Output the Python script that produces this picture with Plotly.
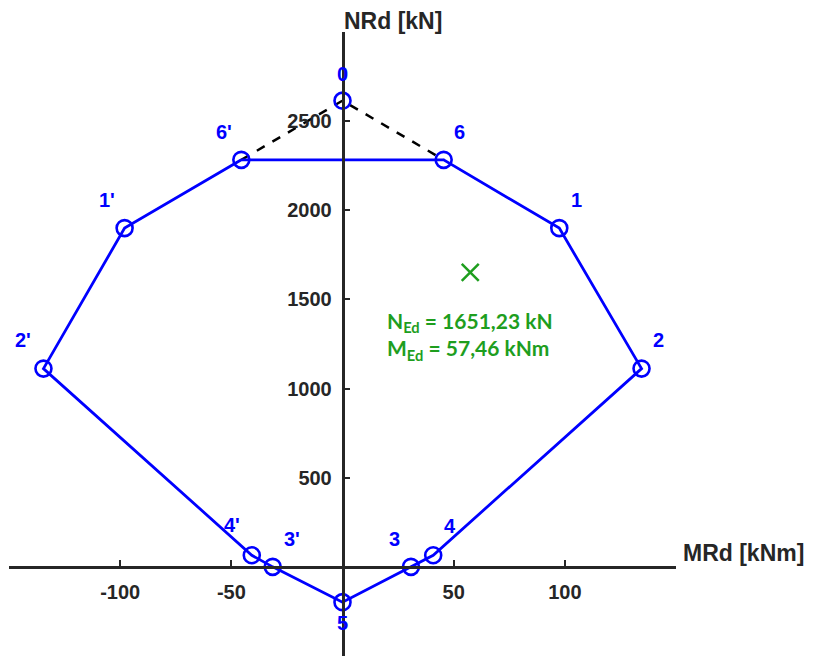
import plotly.graph_objects as go

# Interaction diagram points (M [kNm], N [kN])
labels = ["0", "6", "1", "2", "4", "3", "5", "3'", "4'", "2'", "1'", "6'"]
M_pts = [0, 45.5, 97.5, 134.5, 40.8, 30.8, 0, -31.4, -40.8, -134.5, -98.0, -45.5]
N_pts = [2615, 2283, 1900, 1112, 65, 0, -198, 0, 65, 1112, 1900, 2283]

# solid contour order
solid_order = ["6'", "6", "1", "2", "4", "3", "5", "3'", "4'", "2'", "1'", "6'"]
dash_order = ["6'", "0", "6"]

M_Ed = 57.46
N_Ed = 1651.23

x_ticks = [-100, -50, 50, 100]
x_ticktext = ["-100", "-50", "50", "100"]
x_end_ticks = [-150, 150]
y_ticks = [500, 1000, 1500, 2000, 2500]
y_ticktext = ["500", "1000", "1500", "2000", "2500"]
y_end_ticks = [-500, 3000]

# label offsets in pixels (dx, dy) with dy positive upward
label_offsets = {
    "0": (0, 27), "6": (16, 28), "6'": (-17, 28), "1": (17, 28), "1'": (-18, 28),
    "2": (17, 29), "2'": (-20, 29), "4": (17, 29), "4'": (-20, 30),
    "3": (-16, 28), "3'": (19, 28), "5": (0, -21),
}

idx = {l: i for i, l in enumerate(labels)}
BLUE = "#0000FF"
GREEN = "#1E9E1E"
AX = "#262626"

fig = go.Figure()
fig.add_trace(go.Scatter(
    x=[M_pts[idx[l]] for l in dash_order], y=[N_pts[idx[l]] for l in dash_order],
    mode="lines", line=dict(color="black", width=2.5, dash="dash"), hoverinfo="skip"))
fig.add_trace(go.Scatter(
    x=[M_pts[idx[l]] for l in solid_order], y=[N_pts[idx[l]] for l in solid_order],
    mode="lines", line=dict(color=BLUE, width=2.8), hoverinfo="skip"))
fig.add_trace(go.Scatter(
    x=M_pts, y=N_pts, mode="markers",
    marker=dict(symbol="circle-open", size=16, color=BLUE, line=dict(width=2.6, color=BLUE))))
fig.add_trace(go.Scatter(
    x=[M_Ed], y=[N_Ed], mode="markers",
    marker=dict(symbol="x-thin-open", size=17, color=GREEN, line=dict(width=2.5, color=GREEN))))

for l in labels:
    dx, dy = label_offsets[l]
    fig.add_annotation(x=M_pts[idx[l]], y=N_pts[idx[l]], text=l, showarrow=False,
                       xshift=dx, yshift=dy,
                       font=dict(family="Liberation Sans", size=20, color=BLUE, weight="bold"))

fig.add_annotation(x=M_Ed, y=N_Ed, text="N<sub>Ed</sub> = 1651,23 kN<br>M<sub>Ed</sub> = 57,46 kNm",
                   showarrow=False, yshift=-64, xshift=0, align="left",
                   font=dict(family="Lato", size=21, color=GREEN, weight="bold"))

fig.add_annotation(x=0, y=3000, text="NRd [kN]", showarrow=False, xanchor="left", yanchor="bottom",
                   xshift=-1, yshift=-4,
                   font=dict(family="Liberation Sans", size=23, color=AX, weight="bold"))
fig.add_annotation(x=150, y=0, text="MRd [kNm]", showarrow=False, xanchor="left", yanchor="middle",
                   xshift=5, yshift=14,
                   font=dict(family="Liberation Sans", size=23, color=AX, weight="bold"))

tickfont = dict(family="Liberation Sans", size=20, color=AX, weight="bold")
fig.update_layout(
    width=811, height=651, showlegend=False,
    plot_bgcolor="white", paper_bgcolor="white",
    margin=dict(l=1, r=143, t=24, b=3),
    xaxis=dict(range=[-150, 150], anchor="free", position=500 / 3500,
               showgrid=False, zeroline=False, showline=True, linewidth=2.5, linecolor=AX,
               ticks="inside", ticklen=6, tickwidth=2, tickcolor=AX,
               tickvals=x_ticks, ticktext=x_ticktext, tickfont=tickfont, ticklabelstandoff=6,
               minor=dict(tickmode="array", tickvals=x_end_ticks, ticks="inside",
                          ticklen=6, tickwidth=2, tickcolor=AX, showgrid=False)),
    yaxis=dict(range=[-500, 3000], anchor="free", position=0.5,
               showgrid=False, zeroline=False, showline=True, linewidth=2.5, linecolor=AX,
               ticks="inside", ticklen=6, tickwidth=2, tickcolor=AX,
               tickvals=y_ticks, ticktext=y_ticktext, tickfont=tickfont, ticklabelstandoff=6,
               minor=dict(tickmode="array", tickvals=y_end_ticks, ticks="inside",
                          ticklen=6, tickwidth=2, tickcolor=AX, showgrid=False)),
)
fig.write_html("out.html")
